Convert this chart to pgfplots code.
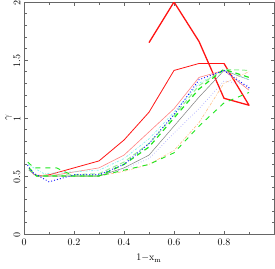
\documentclass[border=0pt]{standalone}
\usepackage{pgfplots}
\pgfplotsset{compat=1.18}
\definecolor{myred}{RGB}{255,20,20}
\definecolor{salmon}{RGB}{255,130,130}
\definecolor{myblue}{RGB}{20,20,255}
\definecolor{lblue}{RGB}{170,170,255}
\definecolor{mygreen}{RGB}{30,230,30}
\definecolor{lgreen}{RGB}{150,240,150}
\definecolor{orng}{RGB}{255,190,130}
\definecolor{lcyan}{RGB}{140,240,240}
\begin{document}
\begin{tikzpicture}
\begin{axis}[
  scale only axis, width=250pt, height=232pt,
  xmin=0, xmax=1, ymin=0, ymax=2,
  axis line style={black!60},
  xtick={0,0.2,0.4,0.6,0.8}, minor xtick={0.1,0.3,0.5,0.7,0.9},
  ytick={0,0.5,1,1.5,2}, minor ytick={0.1,0.2,0.3,0.4,0.6,0.7,0.8,0.9,1.1,1.2,1.3,1.4,1.6,1.7,1.8,1.9},
  tick align=inside, major tick length=3.5pt, minor tick length=2.5pt,
  every tick/.style={black!60},
  xticklabels={0,0.2,0.4,0.6,0.8},
  yticklabels={0,0.5,1,1.5,2},
  yticklabel style={rotate=90, anchor=south, font=\normalsize, xshift=-1pt},
  xticklabel style={font=\normalsize, yshift=-1pt},
  xlabel={$1{-}\mathrm{x}_\mathrm{m}$},
  ylabel={$\gamma$},
  ylabel style={font=\normalsize, yshift=-5pt},
  xlabel style={font=\normalsize, yshift=-2pt},
  every axis plot/.append style={line join=round},
]
% thick red
\addplot[myred, line width=1.3pt] coordinates {(0.5,1.65) (0.6,2.0) (0.7,1.66) (0.8,1.17) (0.9,1.11) (0.8,1.47)};
% medium red
\addplot[myred, line width=0.8pt] coordinates {(0.05,0.5) (0.1,0.51) (0.3,0.63) (0.4,0.81) (0.5,1.05) (0.6,1.41) (0.7,1.47) (0.8,1.47)};
% salmon
\addplot[salmon, line width=0.6pt] coordinates {(0.02,0.57) (0.04,0.51) (0.1,0.5) (0.3,0.57) (0.4,0.68) (0.5,0.88) (0.6,1.08) (0.7,1.35) (0.8,1.41) (0.9,1.24)};
% orange dash-dot
\addplot[orng, line width=0.6pt, dash pattern=on 3pt off 1.5pt on 1pt off 1.5pt] coordinates {(0.02,0.55) (0.05,0.5) (0.3,0.5) (0.4,0.54) (0.5,0.6) (0.6,0.72) (0.7,0.96) (0.8,1.3) (0.9,1.40)};
% light blue dotted
\addplot[lblue, line width=0.7pt, dotted] coordinates {(0.02,0.55) (0.05,0.5) (0.3,0.5) (0.4,0.56) (0.5,0.65) (0.6,0.87) (0.7,1.08) (0.8,1.32) (0.9,1.28)};
% grey solid
\addplot[gray, line width=0.5pt] coordinates {(0.02,0.55) (0.05,0.5) (0.3,0.5) (0.4,0.57) (0.5,0.68) (0.6,0.93) (0.7,1.18) (0.8,1.41) (0.9,1.33)};
% cyan dotted
\addplot[lcyan, line width=0.8pt, dash pattern=on 2pt off 1.5pt on 0.5pt off 1.5pt] coordinates {(0.015,0.6) (0.08,0.52) (0.3,0.55) (0.4,0.65) (0.5,0.82) (0.6,1.05) (0.7,1.3) (0.8,1.41) (0.9,1.33)};
% light green dashed
\addplot[lgreen, line width=1pt, dash pattern=on 5pt off 3pt] coordinates {(0.02,0.56) (0.05,0.5) (0.3,0.52) (0.4,0.62) (0.5,0.78) (0.6,1.02) (0.7,1.28) (0.8,1.42) (0.9,1.41)};
% green thick dashed
\addplot[mygreen, line width=1.2pt, dash pattern=on 5pt off 4pt] coordinates {(0.02,0.57) (0.05,0.5) (0.3,0.5) (0.4,0.6) (0.5,0.75) (0.6,1.0) (0.7,1.25) (0.8,1.42) (0.9,1.35)};
% blue thick dotted
\addplot[myblue, line width=1.3pt, dash pattern=on 0pt off 3pt, line cap=round] coordinates {(0.015,0.59) (0.035,0.53) (0.1,0.45) (0.2,0.51) (0.3,0.51) (0.4,0.6) (0.5,0.78) (0.6,1.03) (0.7,1.33) (0.8,1.41) (0.9,1.26)};
% green long dashed lower
\addplot[mygreen, line width=0.9pt, dash pattern=on 5pt off 5pt] coordinates {(0.015,0.62) (0.04,0.57) (0.13,0.57) (0.2,0.5) (0.3,0.5) (0.4,0.55) (0.5,0.6) (0.6,0.7) (0.7,0.93) (0.8,1.13) (0.9,1.22)};
\end{axis}
\pgfresetboundingbox
\path ([shift={(-24pt,-34pt)}]current axis.south west) rectangle ([shift={(1pt,2pt)}]current axis.north east);
\end{tikzpicture}
\end{document}
